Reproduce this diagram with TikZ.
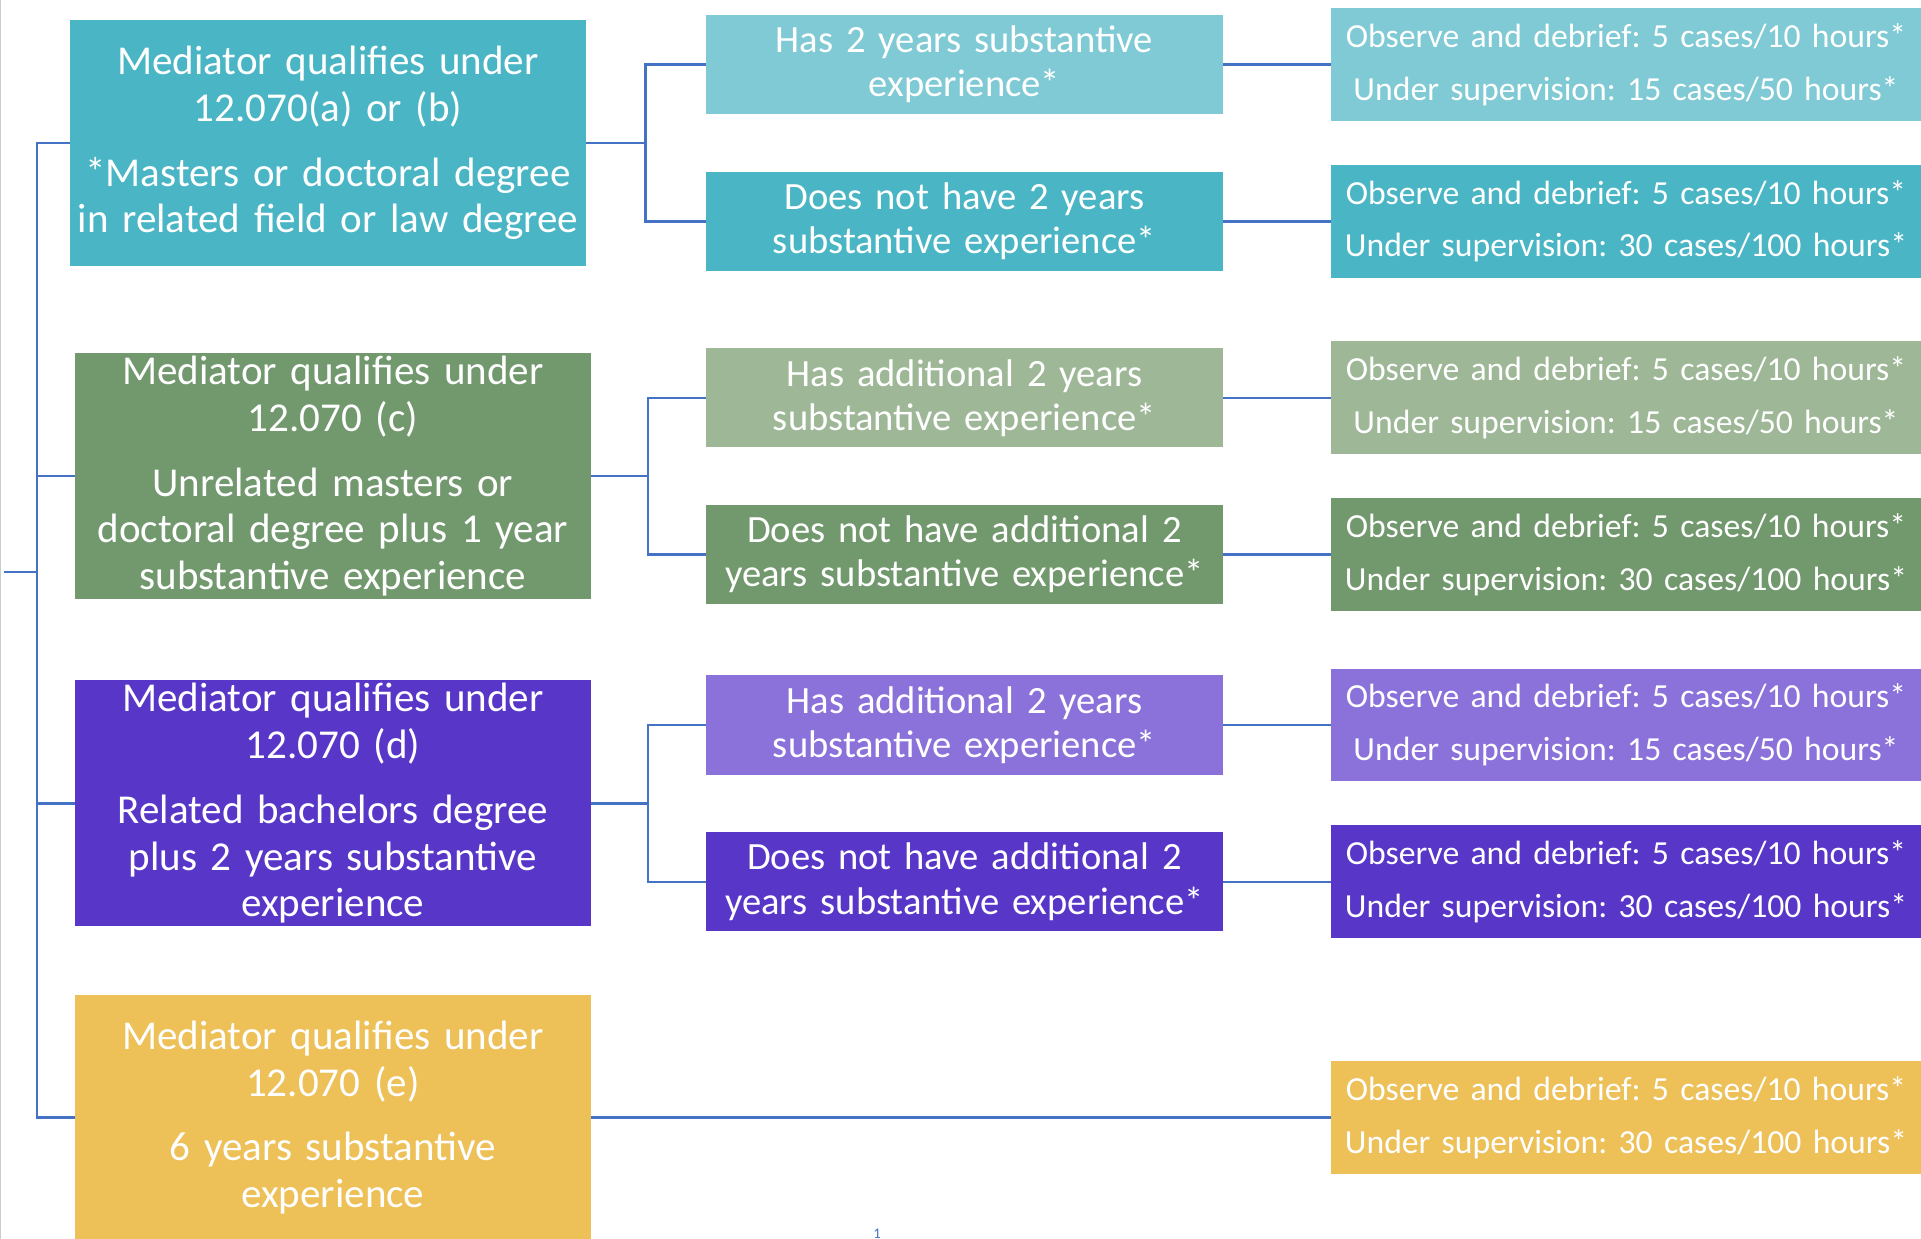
\documentclass[tikz,border=0pt]{standalone}
\usepackage{fontspec}
\setmainfont[WordSpace=0.85]{Carlito}
\usetikzlibrary{math}

\definecolor{linkblue}{HTML}{4472C4}
\definecolor{tealD}{HTML}{4AB5C4}
\definecolor{tealL}{HTML}{7FCAD4}
\definecolor{greenD}{HTML}{72986E}
\definecolor{greenL}{HTML}{9DB797}
\definecolor{purpleD}{HTML}{5837C8}
\definecolor{purpleL}{HTML}{8B72DA}
\definecolor{gold}{HTML}{EDC058}

\begin{document}
\frenchspacing
\begin{tikzpicture}[x=1pt, y=-1pt,
  qual/.style={anchor=north west, inner sep=0pt, minimum width=421pt, minimum height=201pt,
    text width=421pt, align=center, text=white, font=\fontsize{33.5}{38}\selectfont},
  cond/.style={anchor=north west, inner sep=0pt, minimum width=422pt, minimum height=81pt,
    text width=422pt, align=center, text=white, font=\fontsize{31.5}{36}\selectfont},
  req/.style={anchor=north west, inner sep=0pt, minimum width=482pt, minimum height=92pt,
    text width=482pt, align=center, text=white, font=\fontsize{27.5}{43}\selectfont},
  link/.style={draw=linkblue, line width=2pt}]

\useasboundingbox (0,0) rectangle (1568,1011);
\draw[gray!40, line width=1pt] (0.5,0) -- (0.5,1011);

\tikzmath{ \xq = 57; \xc = 576; \xr = 1086; }

% 12.070(a) or (b)
\node[qual, fill=tealD] (qa) at (\xq,16) {Mediator qualifies under\\12.070(a) or (b)\\[15pt]*Masters or doctoral degree\\in related field or law degree};
\node[cond, fill=tealL] (ca1) at (\xc,12) {Has 2 years substantive\\experience*};
\node[cond, fill=tealD] (ca2) at (\xc,140) {Does not have 2 years\\substantive experience*};
\node[req, fill=tealL] (ra1) at (\xr,6.5) {Observe and debrief: 5 cases/10 hours*\\Under supervision: 15 cases/50 hours*};
\node[req, fill=tealD] (ra2) at (\xr,134.5) {Observe and debrief: 5 cases/10 hours*\\Under supervision: 30 cases/100 hours*};

% 12.070 (c)
\node[qual, fill=greenD] (qb) at (\xq + 4,288) {Mediator qualifies under\\12.070 (c)\\[15pt]Unrelated masters or\\doctoral degree plus 1 year\\substantive experience};
\node[cond, fill=greenL] (cb1) at (\xc,284) {Has additional 2 years\\substantive experience*};
\node[cond, fill=greenD] (cb2) at (\xc,412) {Does not have additional 2\\years substantive experience*};
\node[req, fill=greenL] (rb1) at (\xr,278.5) {Observe and debrief: 5 cases/10 hours*\\Under supervision: 15 cases/50 hours*};
\node[req, fill=greenD] (rb2) at (\xr,406.5) {Observe and debrief: 5 cases/10 hours*\\Under supervision: 30 cases/100 hours*};

% 12.070 (d)
\node[qual, fill=purpleD] (qc) at (\xq + 4,555) {Mediator qualifies under\\12.070 (d)\\[15pt]Related bachelors degree\\plus 2 years substantive\\experience};
\node[cond, fill=purpleL] (cc1) at (\xc,551) {Has additional 2 years\\substantive experience*};
\node[cond, fill=purpleD] (cc2) at (\xc,679) {Does not have additional 2\\years substantive experience*};
\node[req, fill=purpleL] (rc1) at (\xr,545.5) {Observe and debrief: 5 cases/10 hours*\\Under supervision: 15 cases/50 hours*};
\node[req, fill=purpleD] (rc2) at (\xr,673.5) {Observe and debrief: 5 cases/10 hours*\\Under supervision: 30 cases/100 hours*};

% 12.070 (e)
\node[qual, fill=gold, minimum height=200pt] (qd) at (\xq + 4,812) {Mediator qualifies under\\12.070 (e)\\[15pt]6 years substantive\\experience};
\node[req, fill=gold] (rd) at (\xr,866) {Observe and debrief: 5 cases/10 hours*\\Under supervision: 30 cases/100 hours*};

% trunk
\coordinate (root) at (3,467);
\coordinate (tk) at (30,467);
\draw[link] (root) -- (tk);
\draw[link] (qa.west) -| (tk);
\draw[link] (qd.west) -| (tk);
\draw[link] (qb.west) -- (qb.west -| tk);
\draw[link] (qc.west) -- (qc.west -| tk);

% branches
\coordinate (ja) at (527,0);
\coordinate (jb) at (529,0);
\draw[link] (qa.east) -- (qa.east -| ja);
\draw[link] (ca1.west) -| (qa.east -| ja) |- (ca2.west);
\draw[link] (qb.east) -- (qb.east -| jb);
\draw[link] (cb1.west) -| (qb.east -| jb) |- (cb2.west);
\draw[link] (qc.east) -- (qc.east -| jb);
\draw[link] (cc1.west) -| (qc.east -| jb) |- (cc2.west);

\draw[link] (ca1.east) -- (ra1.west);
\draw[link] (ca2.east) -- (ra2.west);
\draw[link] (cb1.east) -- (rb1.west);
\draw[link] (cb2.east) -- (rb2.west);
\draw[link] (cc1.east) -- (rc1.west);
\draw[link] (cc2.east) -- (rc2.west);
\draw[link] (qd.east) -- (rd.west);

\node[anchor=north, inner sep=0pt, text=linkblue, font=\fontsize{12}{14}\selectfont] (pg) at (716,1003) {1};

\end{tikzpicture}
\end{document}
